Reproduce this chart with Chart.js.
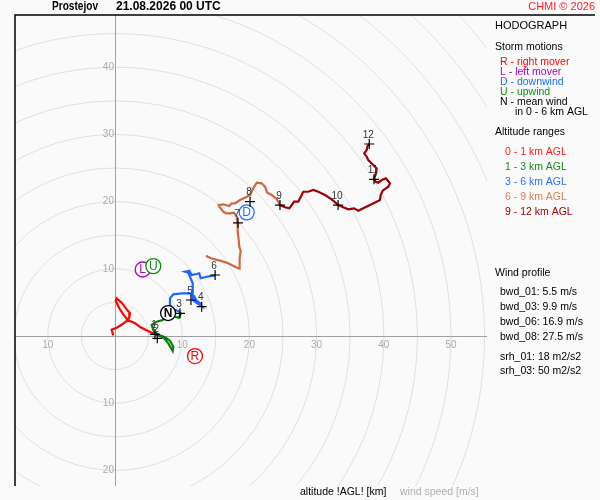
<!DOCTYPE html>
<html>
<head>
<meta charset="utf-8">
<script src="https://cdn.jsdelivr.net/npm/chart.js@4.4.1/dist/chart.umd.min.js"></script>
<style>
body { margin:0; background:#fafafa; }
canvas { display:block; }
</style>
</head>
<body>
<canvas id="chart" width="600" height="500"></canvas>
<script>
// wind components [u, v] in m/s, one array per altitude range
var layer0_1 = [[-0.25,0.1],[-0.5,0.95],[0.25,1.24],[1.09,1.74],[1.89,2.38],[1.24,3.23],[0.64,4.12],[0.1,5.25],[0.25,5.61],[1.0,4.96],[1.74,3.97],[2.23,3.38],[2.13,2.78],[1.89,2.38],[2.98,1.89],[3.82,1.29],[4.61,0.89],[5.46,0.49],[5.95,0.25]];
var layer1_3 = [[5.95,0.25],[7.19,-0.19],[7.93,-1.09],[8.59,-2.23],[8.68,-1.59],[8.18,-0.7],[7.44,-0.19],[6.59,0.15],[5.8,0.64],[5.46,1.64],[6.21,2.13],[7.1,2.38],[7.84,3.38],[8.93,2.87],[9.52,2.72],[9.78,3.27],[9.67,3.6]];
var layer3_6 = [[9.67,3.6],[8.68,3.97],[8.18,4.61],[8.18,5.61],[8.68,6.2],[9.92,6.35],[11.16,6.35],[11.76,5.95],[12.15,5.25],[12.65,4.86],[12.9,4.46],[12.25,4.86],[11.56,5.36],[11.56,6.45],[11.56,7.84],[11.26,8.58],[10.9,9.42],[10.42,9.57],[11.06,9.72],[11.41,9.08],[12.16,9.23],[12.54,9.33],[12.75,8.59],[13.64,8.82],[14.88,9.03]];
var layer6_9 = [[13.54,11.95],[14.24,11.56],[15.63,11.21],[16.86,10.82],[17.86,10.31],[18.5,10.01],[18.6,10.71],[18.5,11.56],[18.71,12.65],[18.5,13.29],[18.41,14.29],[18.3,15.28],[18.26,16.52],[18.11,17.75],[17.71,18.35],[17.11,18.26],[16.52,18.26],[16.12,18.5],[15.52,19.24],[15.43,19.49],[16.12,19.6],[17.01,19.35],[17.37,19.75],[17.86,19.75],[18.6,20.24],[19.49,20.64],[20.09,20.98],[20.58,21.98],[21.09,22.81],[21.83,22.72],[22.32,22.22],[22.66,21.32],[23.32,20.98],[24.06,20.39],[24.55,19.49]];
var layer9_12 = [[24.55,19.49],[25.3,19.15],[25.94,19.0],[26.3,19.49],[26.64,19.99],[27.28,19.99],[27.53,20.49],[28.02,21.47],[28.76,21.47],[29.51,21.73],[30.25,21.47],[31.25,20.98],[32.25,20.34],[33.23,19.49],[33.97,19.15],[34.72,18.85],[35.57,19.0],[36.21,18.65],[36.95,19.0],[37.95,19.49],[38.94,19.99],[39.43,20.24],[39.54,20.98],[39.84,21.62],[40.33,21.98],[40.67,22.22],[40.92,22.72],[40.52,23.21],[40.33,23.47],[39.69,23.21],[39.18,22.81],[38.79,22.96],[38.54,23.32],[38.84,24.21],[38.94,24.96],[38.44,25.45],[37.69,26.19],[37.46,26.68],[37.1,27.19],[37.46,27.68],[37.54,28.17],[37.84,28.57]];

// height marks [km]
var heightKm = [1,2,3,4,5,6,7,8,9,10,11,12];
var heightU = [5.95,6.3,9.67,12.9,11.3,14.9,18.3,20.1,24.55,33.2,38.54,37.84];
var heightV = [0.25,-0.35,3.38,4.36,5.36,9.08,16.85,19.99,19.49,19.49,23.32,28.57];

// storm motions
var stormKeys = ["R","L","U","N","D"];
var stormU = [11.9,4.12,5.7,7.9,19.6];
var stormV = [-2.98,9.9,10.4,3.42,18.4];

// axis tick labels
var tickX = [-10,10,20,30,40,50];
var tickY = [-20,-10,10,20,30,40];

var windProfile = ["bwd_01: 5.5 m/s","bwd_03: 9.9 m/s","bwd_06: 16.9 m/s","bwd_08: 27.5 m/s"];
var helicity = ["srh_01: 18 m2/s2","srh_03: 50 m2/s2"];

var stormColor = {R:"#ff0000", L:"#b000c0", U:"#108c10", N:"#000000", D:"#1e6cff"};
var FONT = "'Liberation Sans', Arial, sans-serif";

function pts(a) {
    return a.map(function(p) { return {x:p[0], y:p[1]}; });
}
function lineSet(a, color) {
    return {type:'line', data:pts(a), borderColor:color, borderWidth:2.2, pointRadius:0,
            showLine:true, fill:false, tension:0, order:3};
}

var hodoPlugin = {
    id: 'hodo',
    beforeDraw: function(chart) {
        var ctx = chart.ctx;
        ctx.save();
        ctx.fillStyle = '#fafafa';
        ctx.fillRect(0, 0, chart.width, chart.height);
        ctx.restore();
    },
    beforeDatasetsDraw: function(chart) {
        var ctx = chart.ctx, a = chart.chartArea;
        var xs = chart.scales.x, ys = chart.scales.y;
        var ox = xs.getPixelForValue(0), oy = ys.getPixelForValue(0);
        var k = xs.getPixelForValue(1) - ox;
        ctx.save();
        ctx.beginPath();
        ctx.rect(a.left, a.top, a.right - a.left, a.bottom - a.top);
        ctx.clip();
        ctx.strokeStyle = '#e0e0e0';
        ctx.lineWidth = 1;
        for (var r = 5; r <= 90; r += 5) {
            ctx.beginPath();
            ctx.arc(ox, oy, r * k, 0, Math.PI * 2);
            ctx.stroke();
        }
        ctx.strokeStyle = '#a0a0a0';
        ctx.beginPath();
        ctx.moveTo(a.left, Math.round(oy) + 0.5); ctx.lineTo(a.right, Math.round(oy) + 0.5);
        ctx.moveTo(Math.round(ox) + 0.5, a.top); ctx.lineTo(Math.round(ox) + 0.5, a.bottom);
        ctx.stroke();
        ctx.fillStyle = '#aaaaaa';
        ctx.font = '10px ' + FONT;
        ctx.textAlign = 'center';
        ctx.textBaseline = 'middle';
        tickX.forEach(function(t) {
            ctx.fillText(Math.abs(t), xs.getPixelForValue(t), oy + 9);
        });
        ctx.textAlign = 'right';
        tickY.forEach(function(t) {
            ctx.fillText(Math.abs(t), ox - 1, ys.getPixelForValue(t));
        });
        ctx.restore();
    },
    afterDatasetsDraw: function(chart) {
        var ctx = chart.ctx;
        ctx.save();
        // height labels above the crosses
        var hm = chart.getDatasetMeta(6);
        ctx.fillStyle = '#333333';
        ctx.font = '10px ' + FONT;
        ctx.textAlign = 'center';
        ctx.textBaseline = 'middle';
        hm.data.forEach(function(el, i) {
            ctx.fillText(heightKm[i], el.x - 1, el.y - 9);
        });
        // storm motion letters
        var sm = chart.getDatasetMeta(5);
        sm.data.forEach(function(el, i) {
            var key = stormKeys[i];
            ctx.font = (key === 'N' ? 'bold ' : '') + '12px ' + FONT;
            ctx.fillStyle = stormColor[key];
            ctx.fillText(key, el.x, el.y + 0.5);
        });
        ctx.restore();
    },
    afterDraw: function(chart) {
        var ctx = chart.ctx, a = chart.chartArea;
        ctx.save();
        // frame
        ctx.strokeStyle = '#000';
        ctx.lineWidth = 1.5;
        ctx.beginPath();
        ctx.moveTo(a.left, a.bottom); ctx.lineTo(a.left, a.top); ctx.lineTo(595, a.top);
        ctx.stroke();

        ctx.textBaseline = 'middle';
        ctx.textAlign = 'left';
        ctx.fillStyle = '#000';
        ctx.font = 'bold 12px ' + FONT;
        ctx.fillText('Prostejov', 52, 7, 46);
        ctx.fillText('21.08.2026 00 UTC', 116, 7);
        ctx.fillStyle = '#ff2020';
        ctx.font = '11px ' + FONT;
        ctx.textAlign = 'right';
        ctx.fillText('CHMI \u00a9 2026', 595, 7);

        ctx.textAlign = 'left';
        ctx.fillStyle = '#000';
        ctx.font = '11px ' + FONT;
        ctx.fillText('HODOGRAPH', 495, 26);
        ctx.font = '10.5px ' + FONT;
        ctx.fillText('Storm motions', 495, 47);
        ctx.fillStyle = stormColor.R; ctx.fillText('R - right mover', 500, 62);
        ctx.fillStyle = stormColor.L; ctx.fillText('L - left mover', 500, 72);
        ctx.fillStyle = stormColor.D; ctx.fillText('D - downwind', 500, 82);
        ctx.fillStyle = stormColor.U; ctx.fillText('U - upwind', 500, 92);
        ctx.fillStyle = '#000'; ctx.fillText('N - mean wind', 500, 102);
        ctx.fillText('in 0 - 6 km AGL', 515, 112);
        ctx.fillText('Altitude ranges', 495, 132);
        var ranges = ['0 - 1 km AGL','1 - 3 km AGL','3 - 6 km AGL','6 - 9 km AGL','9 - 12 km AGL'];
        var rc = ['#ff2020','#109010','#2a70ff','#d88050','#a00000'];
        ranges.forEach(function(t, i) {
            ctx.fillStyle = rc[i];
            ctx.fillText(t, 505, 152 + i * 15);
        });
        ctx.fillStyle = '#000';
        ctx.fillText('Wind profile', 495, 273);
        windProfile.forEach(function(t, i) { ctx.fillText(t, 500, 292 + i * 15); });
        helicity.forEach(function(t, i) { ctx.fillText(t, 500, 357 + i * 14.5); });

        ctx.font = '10.5px ' + FONT;
        ctx.fillText('altitude !AGL! [km]', 300, 492);
        ctx.fillStyle = '#b0b0b0';
        ctx.fillText('wind speed [m/s]', 400, 492);
        ctx.restore();
    }
};

var ctx = document.getElementById('chart').getContext('2d');
var chart = new Chart(ctx, {
    type: 'scatter',
    data: {
        datasets: [
            lineSet(layer0_1, '#ff0000'),
            lineSet(layer1_3, '#0a800a'),
            lineSet(layer3_6, '#1e64ff'),
            lineSet(layer6_9, '#cc6a3c'),
            lineSet(layer9_12, '#a00000'),
            {
                data: stormU.map(function(u, i) { return {x:u, y:stormV[i]}; }),
                pointStyle: 'circle', pointRadius: 7.5, pointBorderWidth: 1.3,
                pointBackgroundColor: '#ffffff',
                pointBorderColor: stormKeys.map(function(k) { return stormColor[k]; }),
                order: 2
            },
            {
                data: heightU.map(function(u, i) { return {x:u, y:heightV[i]}; }),
                pointStyle: 'cross', pointRadius: 5, pointBorderWidth: 1.2,
                pointBorderColor: '#000000',
                order: 1
            }
        ]
    },
    options: {
        responsive: false,
        animation: false,
        layout: { padding: {left:15, top:15, right:113, bottom:14} },
        scales: {
            x: { type:'linear', display:false, min:-14.88, max:55.36 },
            y: { type:'linear', display:false, min:-22.32, max:47.77 }
        },
        plugins: { legend:{display:false}, tooltip:{enabled:false}, title:{display:false} }
    },
    plugins: [hodoPlugin]
});
</script>
</body>
</html>
